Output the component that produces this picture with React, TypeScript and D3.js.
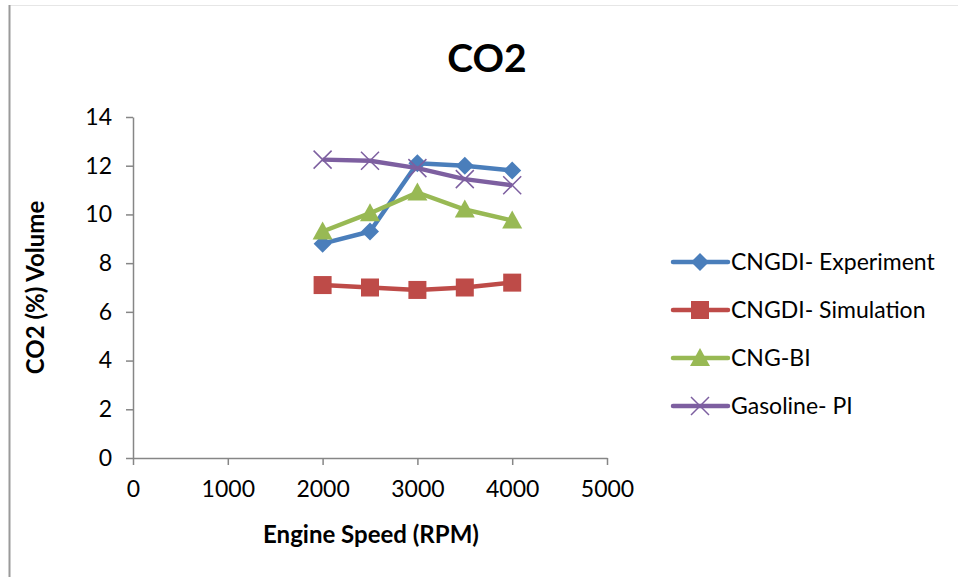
import React, { useEffect, useRef } from "react";
import * as d3 from "d3";

const rpm = [2000, 2500, 3000, 3500, 4000];
const seriesNames = ["CNGDI- Experiment", "CNGDI- Simulation", "CNG-BI", "Gasoline- PI"];
const experiment = [8.8, 9.3, 12.1, 12.0, 11.8];
const simulation = [7.1, 7.0, 6.9, 7.0, 7.2];
const cngBi = [9.3, 10.05, 10.9, 10.2, 9.75];
const gasoline = [12.25, 12.2, 11.9, 11.45, 11.2];
const xTicks = [0, 1000, 2000, 3000, 4000, 5000];
const yTicks = [0, 2, 4, 6, 8, 10, 12, 14];

const colors = ["#4a7ebb", "#be4b48", "#98b954", "#7d5fa0"];
const markers = ["diamond", "square", "triangle", "cross"];

const font = "Lato, 'Open Sans', sans-serif";

const App = () => {
    const svgRef = useRef<SVGSVGElement>(null);

    useEffect(() => {
        const svg = d3.select(svgRef.current);
        svg.selectAll("*").remove();

        const width = 958;
        const height = 577;
        const axisColor = "#868686";

        svg.attr("width", width).attr("height", height);

        // chart frame
        svg.append("line").attr("x1", 9).attr("x2", width).attr("y1", 5.5).attr("y2", 5.5)
            .attr("stroke", "#e6e6e6").attr("stroke-width", 1);
        svg.append("line").attr("x1", 9.5).attr("x2", 9.5).attr("y1", 5).attr("y2", height)
            .attr("stroke", "#9a9a9a").attr("stroke-width", 2);

        const x = d3.scaleLinear().domain([0, 5000]).range([133, 607]);
        const y = d3.scaleLinear().domain([0, 14]).range([458, 117]);

        // title
        svg.append("text").attr("x", 487).attr("y", 72).attr("text-anchor", "middle")
            .style("font-family", font).style("font-weight", "bold").style("font-size", "39px")
            .text("CO2");

        // y axis
        const yAxis = svg.append("g").attr("transform", `translate(${x(0)},0)`)
            .call(d3.axisLeft(y).tickValues(yTicks).tickSize(7).tickSizeOuter(0).tickPadding(14));
        yAxis.select(".domain").attr("stroke", axisColor).attr("stroke-width", 1.5);
        yAxis.selectAll(".tick line").attr("stroke", axisColor).attr("stroke-width", 1.5);
        yAxis.selectAll(".tick text").style("font-family", font).style("font-size", "23px").attr("fill", "#000");

        // x axis
        const xAxis = svg.append("g").attr("transform", `translate(0,${y(0)})`)
            .call(d3.axisBottom(x).tickValues(xTicks).tickFormat(d3.format("d")).tickSize(7).tickSizeOuter(0).tickPadding(16));
        xAxis.select(".domain").attr("stroke", axisColor).attr("stroke-width", 1.5);
        xAxis.selectAll(".tick line").attr("stroke", axisColor).attr("stroke-width", 1.5);
        xAxis.selectAll(".tick text").style("font-family", font).style("font-size", "23px").attr("fill", "#000");

        // axis titles
        svg.append("text").attr("transform", `translate(36,${(y(0) + y(14)) / 2}) rotate(-90)`)
            .attr("text-anchor", "middle").attr("dy", "0.35em")
            .style("font-family", font).style("font-weight", "bold").style("font-size", "24px")
            .text("CO2 (%) Volume");
        svg.append("text").attr("x", 371).attr("y", 543).attr("text-anchor", "middle")
            .style("font-family", font).style("font-weight", "bold").style("font-size", "24px")
            .text("Engine Speed (RPM)");

        const drawMarker = (g: any, type: string, cx: number, cy: number, color: string) => {
            if (type === "diamond") {
                g.append("path").attr("d", `M${cx},${cy - 9}L${cx + 9},${cy}L${cx},${cy + 9}L${cx - 9},${cy}Z`)
                    .attr("fill", color);
            } else if (type === "square") {
                g.append("rect").attr("x", cx - 9).attr("y", cy - 9).attr("width", 18).attr("height", 18)
                    .attr("fill", color);
            } else if (type === "triangle") {
                g.append("path").attr("d", `M${cx},${cy - 10}L${cx + 10},${cy + 8}L${cx - 10},${cy + 8}Z`)
                    .attr("fill", color);
            } else {
                g.append("path").attr("d", `M${cx - 9},${cy - 9}L${cx + 9},${cy + 9}M${cx - 9},${cy + 9}L${cx + 9},${cy - 9}`)
                    .attr("stroke", color).attr("stroke-width", 1.5).attr("fill", "none");
            }
        };

        const allSeries = [experiment, simulation, cngBi, gasoline];
        const line = d3.line<number>().x((d, i) => x(rpm[i])).y((d) => y(d));

        allSeries.forEach((values, si) => {
            const g = svg.append("g");
            g.append("path").datum(values).attr("d", line).attr("fill", "none")
                .attr("stroke", colors[si]).attr("stroke-width", 4.5).attr("stroke-linejoin", "round");
            values.forEach((v, i) => drawMarker(g, markers[si], x(rpm[i]), y(v), colors[si]));
        });

        // legend
        const legend = svg.append("g");
        seriesNames.forEach((name, i) => {
            const ly = 262 + i * 48;
            legend.append("line").attr("x1", 673).attr("x2", 728).attr("y1", ly).attr("y2", ly)
                .attr("stroke", colors[i]).attr("stroke-width", 4.5).attr("stroke-linecap", "round");
            drawMarker(legend, markers[i], 700, ly, colors[i]);
            legend.append("text").attr("x", 731).attr("y", ly).attr("dy", "0.35em")
                .style("font-family", font).style("font-size", "23px").text(name);
        });
    }, []);

    return <svg ref={svgRef} style={{ display: "block", position: "absolute", left: 0, top: 0 }}></svg>;
};

export default App;
